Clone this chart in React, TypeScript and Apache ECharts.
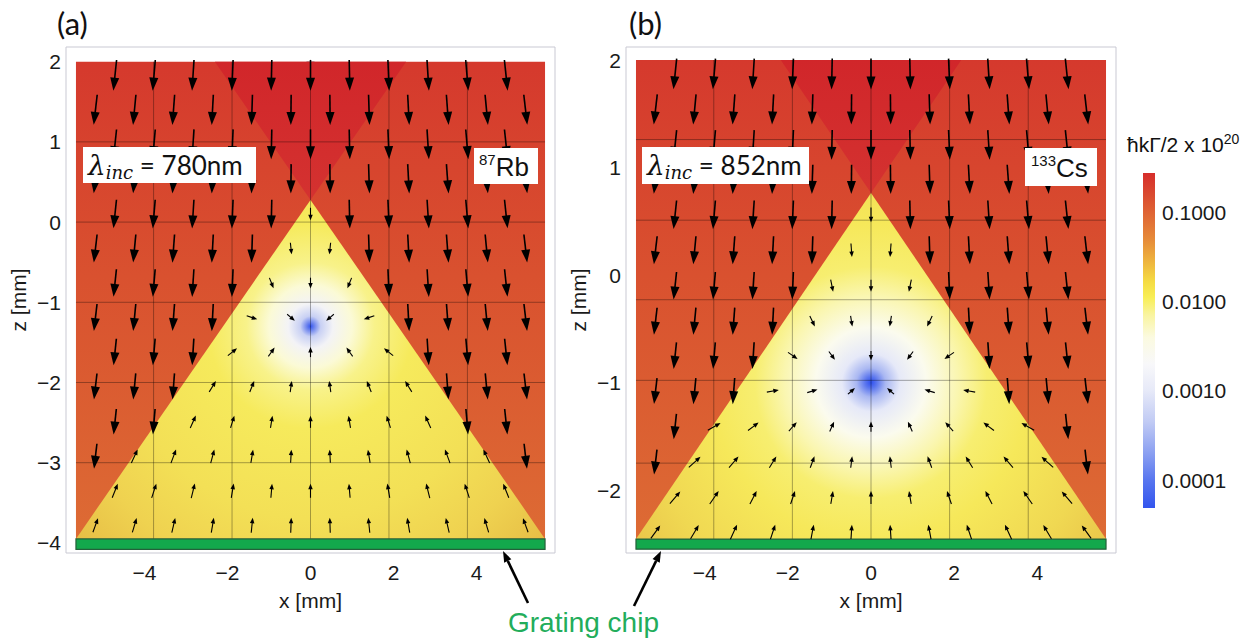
import React, { useEffect, useRef } from "react";
import * as echarts from "echarts";

const SANS = "'Liberation Sans', Arial, sans-serif";
const LABEL_SANS = "Lato, 'Liberation Sans', sans-serif";
const MATH = "'DejaVu Serif', 'Liberation Serif', serif";

// ---------- axes ----------
const xRange = [-5.89, 5.89];
const zRangeA = [-4.126, 2.183];
const zRangeB = [-2.586, 2.121];
const xTickLabels = [-4, -2, 0, 2, 4];
const zTickLabelsA = [-4, -3, -2, -1, 0, 1, 2];
const zTickLabelsB = [-2, -1, 0, 1, 2];
const cbTickLabels = [-4, -3, -2, -1]; // log10 of 0.0001 ... 0.1
const cbRange = [-4.31, -0.56];

// ---------- beam geometry (mm), panel a / panel b ----------
const fieldTop = [2, 2];
const fieldHalfWidth = [5.65, 5.65];
const apexZ = [0.276, 0.763];
const baseZ = [-3.95, -2.456];
const chipZ = [-4.08, -2.55];
const trapCenterZ = [-1.3, -1.0];

// ---------- mesh lines ----------
const gridX = [-3.78, -1.89, 0, 1.89, 3.78];
const gridZA = [-3, -2, -1, 0, 1];
const gridZB = [-1.75, -0.98, -0.23, 0.51, 1.26];

// ---------- arrow sample points ----------
const arrowColsEven = [-4.71, -3.77, -2.83, -1.88, -0.94, 0, 0.94, 1.88, 2.83, 3.77, 4.71];
const arrowColsOdd = [-5.18, -4.24, -3.3, -2.36, -1.41, -0.47, 0.47, 1.41, 2.36, 3.3, 4.24, 5.18];
const arrowRowsA = [1.83, 1.4, 0.97, 0.54, 0.1, -0.33, -0.76, -1.19, -1.62, -2.05, -2.49, -2.92, -3.35, -3.78];
const arrowRowsB = [1.87, 1.54, 1.21, 0.89, 0.56, 0.23, -0.1, -0.43, -0.75, -1.08, -1.41, -1.74, -2.07, -2.39];

// ---------- colours ----------
const outerRed: [number, string][] = [[0, "#d5392d"], [0.45, "#d9512f"], [1, "#dd6b34"]];
const overlapRed: [number, string][] = [[0, "#d1262a"], [1, "#d43230"]];
const trapStopsA: [number, string][] = [
  [0, "#3556f0"], [0.012, "#6d84ee"], [0.032, "#c8d0f4"], [0.07, "#f3f3f6"],
  [0.13, "#fbfad6"], [0.2, "#f8f28a"], [0.32, "#f6ea5c"], [0.6, "#f3e056"],
  [0.8, "#efd250"], [1, "#e6bd45"],
];
const trapStopsB: [number, string][] = [
  [0, "#2f50f0"], [0.02, "#5b76ee"], [0.05, "#a9b7f2"], [0.1, "#e6e9f8"],
  [0.19, "#fbfbee"], [0.3, "#faf6b0"], [0.4, "#f7ee70"], [0.55, "#f6e85a"],
  [0.8, "#f0d852"], [1, "#e8c449"],
];
const trapRadius = [320, 290];
const cbStops: [number, string][] = [
  [-0.56, "#d62e2b"], [-0.8, "#da4a30"], [-1.0, "#df6334"], [-1.3, "#e68a39"],
  [-1.55, "#eeb43e"], [-1.78, "#f5dc43"], [-1.95, "#f8ee55"], [-2.15, "#f9f4a0"],
  [-2.4, "#fbfae0"], [-2.7, "#f8f8fa"], [-3.0, "#e6e9f8"], [-3.35, "#c0caf4"],
  [-3.7, "#8a9ff1"], [-4.0, "#5876ef"], [-4.31, "#3355ee"],
];

const stepList = (a: number, b: number, s: number) => {
  const r: number[] = [];
  for (let v = a; v <= b + 1e-9; v += s) r.push(Math.round(v * 100) / 100);
  return r;
};
const xMinor = stepList(-5.5, 5.5, 0.5);
const zMinorA = stepList(-4, 2, 0.2);
const zMinorB = stepList(-2.4, 2, 0.2);

const fmt = (v: number) => (v < 0 ? "\u2212" + Math.abs(v) : String(v));
const toStops = (s: [number, string][]) => s.map(([o, c]) => ({ offset: o, color: c }));

function bgRender(p: number) {
  return (_params: any, api: any) => {
    const W = fieldHalfWidth[p];
    const top = fieldTop[p];
    const ap = apexZ[p];
    const bs = baseZ[p];
    const tl = api.coord([-W, top]);
    const br = api.coord([W, bs]);
    const bl = api.coord([-W, bs]);
    const apx = api.coord([0, ap]);
    const vx = (W * (top - ap)) / (ap - bs);
    const vl = api.coord([-vx, top]);
    const vr = api.coord([vx, top]);
    const cc = api.coord([0, trapCenterZ[p]]);
    const chipB = api.coord([W, chipZ[p]]);
    const children: any[] = [];
    children.push({
      type: "rect",
      shape: { x: tl[0], y: tl[1], width: br[0] - tl[0], height: br[1] - tl[1] },
      style: { fill: { type: "linear", x: 0, y: tl[1], x2: 0, y2: br[1], global: true, colorStops: toStops(outerRed) } },
    });
    children.push({
      type: "polygon",
      shape: { points: [apx, vl, vr] },
      style: { fill: { type: "linear", x: 0, y: tl[1], x2: 0, y2: apx[1], global: true, colorStops: toStops(overlapRed) } },
    });
    children.push({
      type: "polygon",
      shape: { points: [apx, bl, br] },
      style: { fill: { type: "radial", x: cc[0], y: cc[1], r: trapRadius[p], global: true, colorStops: toStops(p === 0 ? trapStopsA : trapStopsB) } },
    });
    const gz = p === 0 ? gridZA : gridZB;
    gridX.forEach((gx) => {
      const a = api.coord([gx, top]);
      const b = api.coord([gx, bs]);
      children.push({ type: "line", shape: { x1: a[0], y1: a[1], x2: b[0], y2: b[1] }, style: { stroke: "rgba(0,0,0,0.33)", lineWidth: 1 } });
    });
    gz.forEach((z) => {
      const a = api.coord([-W, z]);
      const b = api.coord([W, z]);
      children.push({ type: "line", shape: { x1: a[0], y1: a[1], x2: b[0], y2: b[1] }, style: { stroke: "rgba(0,0,0,0.33)", lineWidth: 1 } });
    });
    children.push({
      type: "rect",
      shape: { x: bl[0], y: bl[1], width: chipB[0] - bl[0], height: chipB[1] - bl[1] },
      style: { fill: "#13a84c", stroke: "#24603a", lineWidth: 1.2 },
    });
    return { type: "group", children };
  };
}

function arrowParts(cx: number, cy: number, ux: number, uy: number, L: number, hl: number, hw: number, lw: number) {
  const tx = cx - (ux * L) / 2;
  const ty = cy - (uy * L) / 2;
  const px = cx + (ux * L) / 2;
  const py = cy + (uy * L) / 2;
  const bx = px - ux * hl;
  const by = py - uy * hl;
  const nx = -uy;
  const ny = ux;
  return [
    { type: "line", shape: { x1: tx, y1: ty, x2: bx + ux, y2: by + uy }, style: { stroke: "#000", lineWidth: lw } },
    {
      type: "polygon",
      shape: { points: [[px, py], [bx + (nx * hw) / 2, by + (ny * hw) / 2], [bx - (nx * hw) / 2, by - (ny * hw) / 2]] },
      style: { fill: "#000" },
    },
  ];
}

function arrowRender(p: number) {
  return (_params: any, api: any) => {
    const x = api.value(0);
    const z = api.value(1);
    const c = api.coord([x, z]);
    const ap = apexZ[p];
    const bs = baseZ[p];
    const W = fieldHalfWidth[p];
    const inside = z <= ap && z >= bs && Math.abs(x) <= (W * (ap - z)) / (ap - bs);
    let ux: number, uy: number, L: number, hl: number, hw: number, lw: number;
    if (!inside) {
      const tilt = ((6 * x) / 4.71) * (Math.PI / 180);
      ux = Math.sin(tilt);
      uy = Math.cos(tilt);
      const depth = (fieldTop[p] - z) / (fieldTop[p] - bs);
      L = 31 - 7 * depth;
      hl = 13;
      hw = 9;
      lw = 1.6;
    } else {
      const cc = api.coord([0, trapCenterZ[p]]);
      const dx = c[0] - cc[0];
      const dy = c[1] - cc[1];
      const r = Math.hypot(dx, dy);
      const a = p === 0 ? 0.33 + 0.27 * Math.exp(-r / 70) : 0.5;
      const vx = -a * dx;
      const vy = -dy;
      const n = Math.hypot(vx, vy) || 1;
      ux = vx / n;
      uy = vy / n;
      L = p === 0 ? 9.5 + 5.5 * Math.min(1, r / 200) : 8.5 + 7.5 * Math.min(1, r / 200);
      hl = 5.5;
      hw = 4.5;
      lw = 1.1;
    }
    return { type: "group", children: arrowParts(c[0], c[1], ux, uy, L, hl, hw, lw) };
  };
}

function cbRender(_params: any, api: any) {
  const a = api.coord([0, cbRange[1]]);
  const b = api.coord([1, cbRange[0]]);
  const span = cbRange[1] - cbRange[0];
  return {
    type: "rect",
    shape: { x: a[0], y: a[1], width: b[0] - a[0], height: b[1] - a[1] },
    style: {
      fill: {
        type: "linear", x: 0, y: 0, x2: 0, y2: 1,
        colorStops: cbStops.map(([v, col]) => ({ offset: (cbRange[1] - v) / span, color: col })),
      },
    },
  };
}

const buildArrows = (rows: number[]) =>
  rows.flatMap((z, k) => (k % 2 === 0 ? arrowColsEven : arrowColsOdd).map((x) => [x, z]));

const tickStyle = { show: true, inside: true, length: 4, lineStyle: { color: "#b4b4c0", width: 1 } };
const labelStyle = { fontSize: 21, fontFamily: SANS, color: "#1a1a1a" };

function panelAxes(g: number, zRange: number[], zLabels: number[], zMinor: number[]) {
  const xs = [
    {
      gridIndex: g, type: "value", min: xRange[0], max: xRange[1], position: "bottom",
      axisLine: { show: false }, splitLine: { show: false },
      axisTick: { ...tickStyle, customValues: xMinor },
      axisLabel: { ...labelStyle, customValues: xTickLabels, formatter: fmt, margin: 9 },
      name: "x [mm]", nameLocation: "middle", nameGap: 37, nameTextStyle: labelStyle,
    },
    {
      gridIndex: g, type: "value", min: xRange[0], max: xRange[1], position: "top",
      axisLine: { show: false }, splitLine: { show: false },
      axisTick: { ...tickStyle, customValues: xMinor }, axisLabel: { show: false },
    },
  ];
  const ys = [
    {
      gridIndex: g, type: "value", min: zRange[0], max: zRange[1], position: "left",
      axisLine: { show: false }, splitLine: { show: false },
      axisTick: { ...tickStyle, customValues: zMinor },
      axisLabel: { ...labelStyle, customValues: zLabels, formatter: fmt, margin: 5 },
      name: "z [mm]", nameLocation: "middle", nameGap: 37, nameTextStyle: labelStyle,
    },
    {
      gridIndex: g, type: "value", min: zRange[0], max: zRange[1], position: "right",
      axisLine: { show: false }, splitLine: { show: false },
      axisTick: { ...tickStyle, customValues: zMinor }, axisLabel: { show: false },
    },
  ];
  return { xs, ys };
}

function chipArrow(x1: number, y1: number, x2: number, y2: number) {
  const dx = x2 - x1;
  const dy = y2 - y1;
  const n = Math.hypot(dx, dy);
  const ux = dx / n;
  const uy = dy / n;
  const hl = 11;
  const hw = 8;
  const bx = x2 - ux * hl;
  const by = y2 - uy * hl;
  return [
    { type: "line", shape: { x1, y1, x2: bx, y2: by }, style: { stroke: "#000", lineWidth: 2.6 } },
    {
      type: "polygon",
      shape: { points: [[x2, y2], [bx - uy * hw / 2, by + ux * hw / 2], [bx + uy * hw / 2, by - ux * hw / 2]] },
      style: { fill: "#000" },
    },
  ];
}

function lambdaLabel(x: number, y: number, value: string) {
  return {
    type: "text", x, y,
    style: {
      text: `{l|λ}{s|inc}{t| = ${value}}`,
      verticalAlign: "middle",
      fill: "#111",
      rich: {
        l: { fontFamily: MATH, fontStyle: "italic", fontSize: 28, lineHeight: 32, verticalAlign: "middle", fill: "#111" },
        s: { fontFamily: MATH, fontStyle: "italic", fontSize: 18, lineHeight: 18, verticalAlign: "bottom", fill: "#111" },
        t: { fontFamily: LABEL_SANS, fontSize: 26, lineHeight: 32, verticalAlign: "middle", fill: "#111" },
      },
    },
  };
}

function isotopeLabel(x: number, y: number, mass: string, sym: string) {
  return {
    type: "text", x, y,
    style: {
      text: `{p|${mass}}{m|${sym}}`,
      verticalAlign: "middle",
      rich: {
        p: { fontFamily: SANS, fontSize: 15, lineHeight: 15, verticalAlign: "top", fill: "#111" },
        m: { fontFamily: SANS, fontSize: 26, lineHeight: 30, verticalAlign: "middle", fill: "#111" },
      },
    },
  };
}

function buildOption() {
  const a = panelAxes(0, zRangeA, zTickLabelsA, zMinorA);
  const b = panelAxes(1, zRangeB, zTickLabelsB, zMinorB);
  const gridBase = { show: true, borderColor: "#c9c9d3", borderWidth: 1, backgroundColor: "#fff" };
  return {
    animation: false,
    backgroundColor: "#fff",
    grid: [
      { ...gridBase, left: 66, top: 47, width: 489, height: 506 },
      { ...gridBase, left: 626, top: 47, width: 490, height: 506 },
      { left: 1143, top: 173, width: 12, height: 335, show: false },
    ],
    xAxis: [...a.xs, ...b.xs, { gridIndex: 2, type: "value", min: 0, max: 1, show: false }],
    yAxis: [
      ...a.ys,
      ...b.ys,
      {
        gridIndex: 2, type: "value", min: cbRange[0], max: cbRange[1], position: "right",
        axisLine: { show: false }, axisTick: { show: false }, splitLine: { show: false },
        axisLabel: { ...labelStyle, customValues: cbTickLabels, margin: 7, formatter: (v: number) => Math.pow(10, v).toFixed(4) },
      },
    ],
    series: [
      { type: "custom", xAxisIndex: 0, yAxisIndex: 0, data: [[0, 0]], renderItem: bgRender(0), silent: true, z: 1, clip: false },
      { type: "custom", xAxisIndex: 0, yAxisIndex: 0, data: buildArrows(arrowRowsA), renderItem: arrowRender(0), silent: true, z: 3, clip: false },
      { type: "custom", xAxisIndex: 2, yAxisIndex: 2, data: [[0, 0]], renderItem: bgRender(1), silent: true, z: 1, clip: false },
      { type: "custom", xAxisIndex: 2, yAxisIndex: 2, data: buildArrows(arrowRowsB), renderItem: arrowRender(1), silent: true, z: 3, clip: false },
      { type: "custom", xAxisIndex: 4, yAxisIndex: 4, data: [[0, 0]], renderItem: cbRender, silent: true, z: 1, clip: false },
    ],
    graphic: {
      elements: [
        { type: "text", x: 57, y: 23, style: { text: "(a)", fontFamily: LABEL_SANS, fontSize: 31, fill: "#111", verticalAlign: "middle" } },
        { type: "text", x: 629, y: 23, style: { text: "(b)", fontFamily: LABEL_SANS, fontSize: 31, fill: "#111", verticalAlign: "middle" } },
        { type: "rect", z: 10, shape: { x: 83, y: 147, width: 173, height: 36 }, style: { fill: "#fff" } },
        { ...lambdaLabel(88, 165, "780nm"), z: 11 },
        { type: "rect", z: 10, shape: { x: 642, y: 147, width: 167, height: 37 }, style: { fill: "#fff" } },
        { ...lambdaLabel(647, 165, "852nm"), z: 11 },
        { type: "rect", z: 10, shape: { x: 474, y: 148, width: 64, height: 36 }, style: { fill: "#fff" } },
        { ...isotopeLabel(479, 167, "87", "Rb"), z: 11 },
        { type: "rect", z: 10, shape: { x: 1025, y: 148, width: 72, height: 38 }, style: { fill: "#fff" } },
        { ...isotopeLabel(1031, 168, "133", "Cs"), z: 11 },
        {
          type: "text", x: 1127, y: 144, z: 11,
          style: {
            text: "{m|ħkΓ/2 x 10}{p|20}",
            verticalAlign: "middle",
            rich: {
              m: { fontFamily: SANS, fontSize: 21, lineHeight: 24, verticalAlign: "middle", fill: "#111" },
              p: { fontFamily: SANS, fontSize: 14, lineHeight: 14, verticalAlign: "top", fill: "#111" },
            },
          },
        },
        { type: "text", x: 508, y: 622, z: 11, style: { text: "Grating chip", fontFamily: SANS, fontSize: 28, fill: "#22ad5b", verticalAlign: "middle" } },
        { type: "group", z: 11, children: chipArrow(528, 603, 503, 551) },
        { type: "group", z: 11, children: chipArrow(634, 606, 661, 551) },
      ],
    },
  };
}

export default function App() {
  const ref = useRef<HTMLDivElement>(null);
  useEffect(() => {
    if (!ref.current) return;
    const chart = echarts.init(ref.current, null, { renderer: "svg" });
    chart.setOption(buildOption() as any);
    return () => chart.dispose();
  }, []);
  return (
    <div
      ref={ref}
      style={{ position: "fixed", left: 0, top: 0, width: 1248, height: 643, background: "#fff" }}
    />
  );
}
